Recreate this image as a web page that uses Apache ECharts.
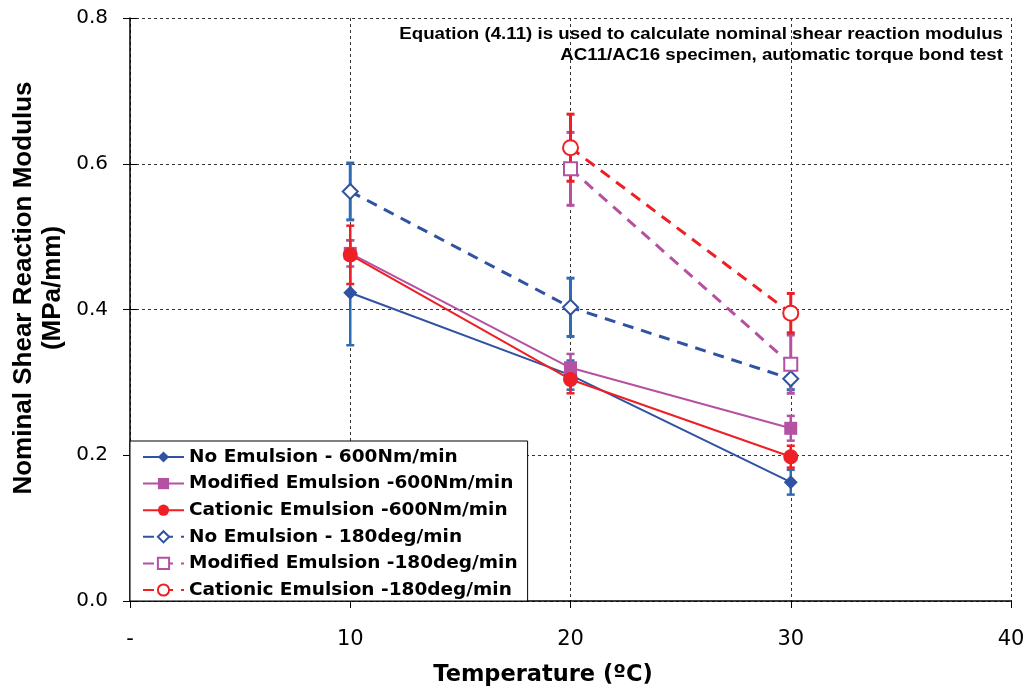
<!DOCTYPE html>
<html>
<head>
<meta charset="utf-8">
<script src="https://cdn.jsdelivr.net/npm/echarts@6/dist/echarts.min.js"></script>
<style>
  html, body { margin: 0; padding: 0; background: #fff; }
  #chart { width: 1030px; height: 691px; }
</style>
</head>
<body>
<div id="chart"></div>
<script>
// Temperatures (ºC) at which each specimen set was tested
const temperatures = [10, 20, 30];

// Nominal shear reaction modulus (MPa/mm), mean values
const noEmulsion600 = [0.423, 0.310, 0.163];
const modified600 = [0.477, 0.320, 0.237];
const cationic600 = [0.475, 0.304, 0.198];
const noEmulsion180 = [0.562, 0.403, 0.305];
const modified180 = [0.593, 0.325];       // 20 and 30 ºC only
const modified180Temps = [20, 30];
const cationic180 = [0.622, 0.395];       // 20 and 30 ºC only
const cationic180Temps = [20, 30];

// Half-widths of the error bars (± one standard deviation)
const noEmulsion600Err = [0.072, 0.020, 0.017];
const modified600Err = [0.018, 0.019, 0.017];
const cationic600Err = [0.040, 0.019, 0.015];
const noEmulsion180Err = [0.039, 0.040, 0.015];
const modified180Err = [0.050, 0.040];
const cationic180Err = [0.046, 0.027];

const xTicks = { 0: '-', 10: '10', 20: '20', 30: '30', 40: '40' };

const seriesNames = [
  'No Emulsion - 600Nm/min',
  'Modified Emulsion -600Nm/min',
  'Cationic Emulsion -600Nm/min',
  'No Emulsion - 180deg/min',
  'Modified Emulsion -180deg/min',
  'Cationic Emulsion -180deg/min'
];

const xTitle = 'Temperature (ºC)';
const yTitle = 'Nominal Shear Reaction Modulus\n(MPa/mm)';
const noteLines = [
  'Equation (4.11) is used to calculate nominal shear reaction modulus',
  'AC11/AC16 specimen, automatic torque bond test'
];

const BLUE = '#2F52A2';
const BLUE_ERR = '#2E6BB5';
const PURPLE = '#B451A2';
const RED = '#EE1F25';

const SANS = '"Liberation Sans", Arial, sans-serif';
const WIDE = '"DejaVu Sans", sans-serif';

function pairs(xs, ys) { return xs.map((x, i) => [x, ys[i]]); }
function errPairs(xs, ys, es) { return xs.map((x, i) => [x, ys[i] - es[i], ys[i] + es[i]]); }

function errorSeries(id, data, color, width) {
  return {
    type: 'custom',
    name: id,
    data: data,
    z: 3,
    silent: true,
    renderItem: function (params, api) {
      const x = api.value(0);
      const lo = api.coord([x, api.value(1)]);
      const hi = api.coord([x, api.value(2)]);
      const cap = 4;
      const style = { stroke: color, lineWidth: width, fill: null };
      return {
        type: 'group',
        children: [
          { type: 'line', shape: { x1: lo[0], y1: lo[1], x2: hi[0], y2: hi[1] }, style: style },
          { type: 'line', shape: { x1: lo[0] - cap, y1: lo[1], x2: lo[0] + cap, y2: lo[1] }, style: style },
          { type: 'line', shape: { x1: hi[0] - cap, y1: hi[1], x2: hi[0] + cap, y2: hi[1] }, style: style }
        ]
      };
    },
    encode: { x: 0, y: [1, 2] }
  };
}

function lineSeries(name, data, color, symbol, size, dashed) {
  return {
    type: 'line',
    name: name,
    data: data,
    z: 4,
    symbol: symbol,
    symbolSize: size,
    showAllSymbol: true,
    color: color,
    lineStyle: dashed
      ? { color: color, width: 3, type: [11, 8] }
      : { color: color, width: 2, type: 'solid' },
    itemStyle: { color: color, borderColor: color, borderWidth: symbol.indexOf('empty') === 0 ? 2 : 0 },
    emphasis: { disabled: true }
  };
}

const chart = echarts.init(document.getElementById('chart'), null, { renderer: 'canvas' });

const gridLine = { show: true, lineStyle: { color: '#333', width: 1, type: [3, 3] } };

chart.setOption({
  animation: false,
  backgroundColor: '#fff',
  grid: { left: 130, right: 19, top: 18, bottom: 90, containLabel: false, outerBoundsMode: 'none' },
  xAxis: {
    type: 'value',
    min: 0, max: 40, interval: 10,
    axisLine: { show: true, onZero: false, lineStyle: { color: '#000', width: 1.5 } },
    axisTick: { show: true, inside: false, length: 7, lineStyle: { color: '#000' } },
    axisLabel: {
      fontFamily: WIDE, fontSize: 21, color: '#000', margin: 28,
      formatter: v => xTicks[v] !== undefined ? xTicks[v] : ''
    },
    splitLine: gridLine
  },
  yAxis: [
    {
      type: 'value',
      min: 0, max: 0.8, interval: 0.2,
      axisLine: { show: true, lineStyle: { color: '#000', width: 1.5 } },
      axisTick: { show: true, inside: false, length: 7, lineStyle: { color: '#000' } },
      axisLabel: {
        fontFamily: WIDE, fontSize: 20, color: '#000', margin: 22,
        formatter: v => v.toFixed(1)
      },
      splitLine: gridLine
    },
    {
      // inner half of the crossing tick marks on the value axis
      type: 'value',
      position: 'left',
      min: 0, max: 0.8, interval: 0.2,
      axisLine: { show: false },
      axisTick: { show: true, inside: true, length: 7, lineStyle: { color: '#000' } },
      axisLabel: { show: false },
      splitLine: { show: false }
    }
  ],
  legend: {
    data: seriesNames,
    orient: 'vertical',
    left: 130,
    top: 441,
    padding: [6, 10, 1, 12],
    itemGap: 6.6,
    itemWidth: 41,
    itemHeight: 14,
    backgroundColor: '#fff',
    borderColor: '#000',
    borderWidth: 1,
    textStyle: { fontFamily: WIDE, fontWeight: 'bold', fontSize: 18.5, color: '#000', lineHeight: 20 },
    selectedMode: false
  },
  graphic: [
    {
      type: 'text',
      x: 38, y: 288,
      rotation: Math.PI / 2,
      style: {
        text: yTitle,
        font: 'bold 26px ' + SANS, fill: '#000', align: 'center', verticalAlign: 'middle', lineHeight: 29
      }
    },
    {
      type: 'text',
      x: 543, y: 675,
      style: {
        text: xTitle,
        font: 'bold 22.5px ' + WIDE, fill: '#000', align: 'center', verticalAlign: 'middle'
      }
    },
    {
      type: 'text',
      x: 1003, y: 26,
      scaleX: 1.1,
      z: 10,
      style: {
        text: noteLines[0],
        font: 'bold 17px ' + SANS, fill: '#000', align: 'right', verticalAlign: 'top'
      }
    },
    {
      type: 'text',
      x: 1003, y: 47,
      scaleX: 1.1,
      z: 10,
      style: {
        text: noteLines[1],
        font: 'bold 17px ' + SANS, fill: '#000', align: 'right', verticalAlign: 'top'
      }
    }
  ],
  series: [
    errorSeries('err1', errPairs(temperatures, noEmulsion600, noEmulsion600Err), BLUE_ERR, 2.5),
    errorSeries('err2', errPairs(temperatures, modified600, modified600Err), PURPLE, 2.5),
    errorSeries('err3', errPairs(temperatures, cationic600, cationic600Err), RED, 2.5),
    errorSeries('err4', errPairs(temperatures, noEmulsion180, noEmulsion180Err), BLUE_ERR, 3),
    errorSeries('err5', errPairs(modified180Temps, modified180, modified180Err), PURPLE, 3),
    errorSeries('err6', errPairs(cationic180Temps, cationic180, cationic180Err), RED, 3),
    lineSeries(seriesNames[0], pairs(temperatures, noEmulsion600), BLUE, 'diamond', 14, false),
    lineSeries(seriesNames[1], pairs(temperatures, modified600), PURPLE, 'rect', 13, false),
    lineSeries(seriesNames[2], pairs(temperatures, cationic600), RED, 'circle', 15, false),
    lineSeries(seriesNames[3], pairs(temperatures, noEmulsion180), BLUE, 'emptyDiamond', 15, true),
    lineSeries(seriesNames[4], pairs(modified180Temps, modified180), PURPLE, 'emptyRect', 13, true),
    lineSeries(seriesNames[5], pairs(cationic180Temps, cationic180), RED, 'emptyCircle', 15, true)
  ]
});
</script>
</body>
</html>
